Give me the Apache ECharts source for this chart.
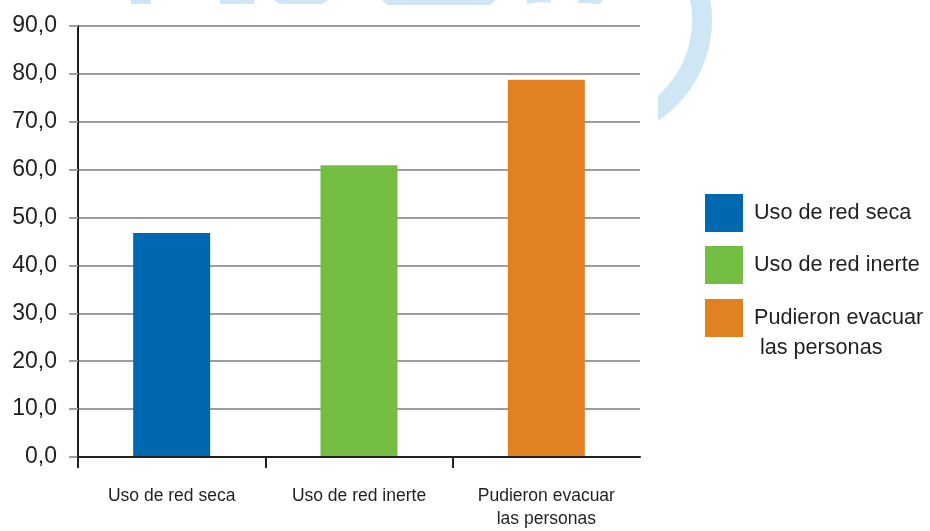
<!DOCTYPE html>
<html>
<head>
<meta charset="utf-8">
<script src="https://cdn.jsdelivr.net/npm/echarts@6/dist/echarts.min.js"></script>
<style>
html,body{margin:0;padding:0;background:#fff;}
#chart{width:930px;height:531px;}
</style>
</head>
<body>
<div id="chart"></div>
<script>
// ---- data ----
const categories = ['Uso de red seca', 'Uso de red inerte', 'Pudieron evacuar las personas'];
const xLabels = ['Uso de red seca', 'Uso de red inerte', 'Pudieron evacuar\nlas personas'];
const legendLabels = ['Uso de red seca', 'Uso de red inerte', 'Pudieron evacuar\n las personas'];
const values = [46.8, 60.9, 78.8];
const barColors = ['#0068b0', '#74be44', '#e28024'];
const yMin = 0, yMax = 90, yStep = 10;

// ---- decoration (faint watermark) ----
const wmColor = '#cfe6f5';
function ringPoints() {
  const cx = 591, cy = 20, r0 = 101, r1 = 121, cutX = 658;
  const pts = [];
  const aOutStart = Math.atan2(-25, Math.sqrt(r1 * r1 - 625));
  const aOutEnd = Math.acos((cutX - cx) / r1);
  for (let i = 0; i <= 40; i++) {
    const a = aOutStart + (aOutEnd - aOutStart) * i / 40;
    pts.push([cx + r1 * Math.cos(a), cy + r1 * Math.sin(a)]);
  }
  const aInStart = Math.acos((cutX - cx) / r0);
  const aInEnd = Math.atan2(-25, Math.sqrt(r0 * r0 - 625));
  for (let i = 0; i <= 40; i++) {
    const a = aInStart + (aInEnd - aInStart) * i / 40;
    pts.push([cx + r0 * Math.cos(a), cy + r0 * Math.sin(a)]);
  }
  return pts;
}
const wmBits = [
  [[131,0],[151,0],[151,4],[131,4]],
  [[220,0],[254,0],[254,4],[220,4]],
  [[274,0],[328,0],[322,4],[280,4]],
  [[382,0],[496,0],[490,5],[388,5]],
  [[527,0],[551,0],[551,3],[540,2],[527,4]],
  [[578,0],[603,0],[600,4],[578,3]]
];

const series = categories.map((name, i) => ({
  name: name,
  type: 'bar',
  stack: 'all',
  barWidth: 77,
  itemStyle: { color: barColors[i] },
  data: values.map((v, j) => (j === i ? v : null))
}));

// boundary positions between categories (used only to place the x-axis ticks)
const tickSlots = categories.concat(['']).map(() => '');

const chart = echarts.init(document.getElementById('chart'), null, { renderer: 'canvas' });
const textColor = '#231f20';
const font = 'Liberation Sans';
const legendBase = {
  orient: 'vertical',
  left: 705,
  padding: 0,
  itemWidth: 38,
  itemHeight: 38,
  itemGap: 14,
  icon: 'rect',
  selectedMode: false
};
const legendText = { fontFamily: font, fontSize: 21.6, color: textColor, lineHeight: 30 };

chart.setOption({
  backgroundColor: '#ffffff',
  animation: false,
  graphic: {
    elements: [
      { type: 'polygon', shape: { points: ringPoints() }, style: { fill: wmColor }, silent: true, z: -10 }
    ].concat(wmBits.map(p => ({ type: 'polygon', shape: { points: p }, style: { fill: wmColor }, silent: true, z: -10 })))
  },
  grid: { left: 78, right: 290, top: 26, bottom: 71, containLabel: false },
  legend: [
    Object.assign({}, legendBase, {
      top: 194,
      formatter: name => ' ' + legendLabels[categories.indexOf(name)],
      textStyle: legendText,
      data: categories.slice(0, 2)
    }),
    Object.assign({}, legendBase, {
      top: 273,
      // leading empty line keeps the first text line level with the swatch
      formatter: name => '\n ' + legendLabels[categories.indexOf(name)].replace('\n', '\n '),
      textStyle: legendText,
      data: [categories[2]]
    })
  ],
  xAxis: [
    {
      type: 'category',
      data: xLabels,
      axisLine: { show: true, lineStyle: { color: textColor, width: 2 } },
      axisTick: { show: false },
      axisLabel: { fontFamily: font, fontSize: 17.5, color: textColor, margin: 28, lineHeight: 23, interval: 0 },
      z: 5
    },
    {
      type: 'category',
      position: 'bottom',
      boundaryGap: false,
      data: tickSlots,
      axisLine: { show: false },
      axisLabel: { show: false },
      splitLine: { show: false },
      axisTick: {
        show: true, length: 11,
        interval: idx => idx < categories.length,
        lineStyle: { color: textColor, width: 2 }
      },
      z: 6
    }
  ],
  yAxis: {
    type: 'value',
    min: yMin,
    max: yMax,
    interval: yStep,
    axisLine: { show: true, lineStyle: { color: textColor, width: 2 } },
    axisTick: { show: true, length: 9, lineStyle: { color: '#9c9da0', width: 2 } },
    splitLine: { lineStyle: { color: '#9c9da0', width: 2 } },
    axisLabel: {
      fontFamily: font, fontSize: 23, color: textColor, margin: 21,
      formatter: v => v.toFixed(1).replace('.', ',')
    }
  },
  series: series
});
</script>
</body>
</html>
